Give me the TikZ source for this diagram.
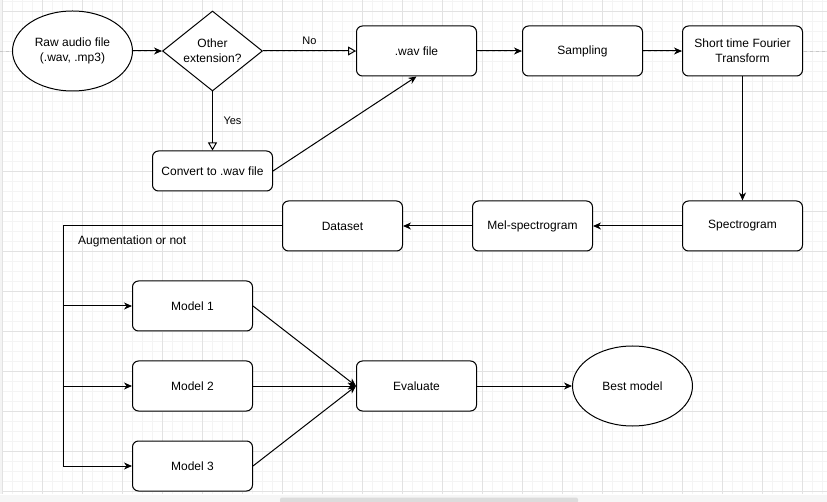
\documentclass[tikz,border=0pt]{standalone}
\usepackage{fontspec}
\setmainfont{Liberation Sans}
\usetikzlibrary{shapes.geometric,arrows.meta}

\definecolor{gridminor}{RGB}{244,244,244}
\definecolor{gridmajor}{RGB}{226,226,226}
\definecolor{pagebreak}{RGB}{200,200,200}
\definecolor{barbg}{RGB}{246,246,246}
\definecolor{barthumb}{RGB}{220,220,220}

\tikzset{
  stepbox/.style={draw, fill=white, rounded corners=6pt, line width=1pt,
    minimum width=120pt, minimum height=50pt, inner sep=0pt, align=center,
    font=\fontsize{12}{15}\selectfont},
  smallbox/.style={stepbox, minimum height=40pt},
  terminal/.style={draw, fill=white, ellipse, line width=1pt,
    minimum width=120pt, minimum height=80pt, inner sep=0pt, align=center,
    font=\fontsize{12}{15}\selectfont},
  decision/.style={draw, fill=white, diamond, line width=1pt, aspect=1.25,
    minimum width=100pt, minimum height=80pt, inner sep=0pt, align=center,
    font=\fontsize{12}{15}\selectfont},
  flow/.style={line width=1pt, -{Stealth[length=8pt,width=7pt,inset=2.5pt]}},
  branch/.style={line width=1pt, -{Triangle[open,length=8pt,width=9pt]}},
  plain/.style={line width=1pt},
  edgelabel/.style={inner sep=0pt, font=\fontsize{11}{13}\selectfont},
  notelabel/.style={inner sep=0pt, anchor=west, font=\fontsize{12}{14}\selectfont},
}

\begin{document}
\begin{tikzpicture}[x=1pt, y=-1pt]
  \useasboundingbox (0,0) rectangle (827,502);
  \fill[white] (0,0) rectangle (827,502);

  % editor grid
  \foreach \i in {0,...,82} {
    \draw[gridminor, line width=0.8pt] (2.5+10*\i,0) -- (2.5+10*\i,494);
  }
  \foreach \j in {0,...,49} {
    \draw[gridminor, line width=0.8pt] (0,1.5+10*\j) -- (827,1.5+10*\j);
  }
  \foreach \i in {0,...,20} {
    \draw[gridmajor, line width=0.8pt] (2.5+40*\i,0) -- (2.5+40*\i,494);
  }
  \foreach \j in {0,...,12} {
    \draw[gridmajor, line width=0.8pt] (0,11.5+40*\j) -- (827,11.5+40*\j);
  }
  \fill[gridminor] (0,0) rectangle (1.5,494);

  % page break line
  \draw[pagebreak, dashed, line width=0.8pt] (0,51) -- (827,51);

  % scroll bar
  \fill[barbg] (0,494.5) rectangle (827,502);
  \fill[barthumb, rounded corners=2pt] (280,497.5) rectangle (578,503);

  % nodes
  \node[terminal] (raw) at (72.5,51) {Raw audio file\\(.wav, .mp3)};
  \node[decision] (dec) at (212.5,51) {Other\\extension?};
  \node[smallbox] (conv) at (212.5,171) {Convert to .wav file};
  \node[stepbox] (wav) at (416.5,51) {.wav file};
  \node[stepbox] (samp) at (582.5,51) {Sampling};
  \node[stepbox] (stft) at (742.5,51) {Short time Fourier\\Transform};
  \node[stepbox] (spec) at (742.5,226) {Spectrogram};
  \node[stepbox] (mel) at (532.5,226) {Mel-spectrogram};
  \node[stepbox] (data) at (342.5,226) {Dataset};
  \node[stepbox] (m1) at (192.5,306) {Model 1};
  \node[stepbox] (m2) at (192.5,386) {Model 2};
  \node[stepbox] (m3) at (192.5,466) {Model 3};
  \node[stepbox] (eval) at (416.5,386) {Evaluate};
  \node[terminal] (best) at (632.5,386) {Best model};

  % labels
  \node[edgelabel] (nolab) at (309.5,41) {No};
  \node[edgelabel] (yeslab) at (232.5,121) {Yes};
  \node[notelabel] (auglab) at (78,241) {Augmentation or not};

  % connectors
  \draw[flow] (raw) -- (dec);
  \draw[branch] (dec.east) -- (wav.west);
  \draw[branch] (dec.south) -- (conv.north);
  \draw[flow] (conv.east) -- (wav.south);
  \draw[flow] (wav) -- (samp);
  \draw[flow] (samp) -- (stft);
  \draw[flow] (stft) -- (spec);
  \draw[flow] (spec) -- (mel);
  \draw[flow] (mel) -- (data);

  \coordinate (split) at (63,226);
  \draw[plain] (data.west) -- (split) -- (split |- m3.west);
  \draw[flow] (split |- m3.west) -- (m3.west);
  \draw[flow] (split |- m1.west) -- (m1.west);
  \draw[flow] (split |- m2.west) -- (m2.west);

  \draw[flow] (m1.east) -- (eval.west);
  \draw[flow] (m2.east) -- (eval.west);
  \draw[flow] (m3.east) -- (eval.west);
  \draw[flow] (eval) -- (best);
\end{tikzpicture}
\end{document}
